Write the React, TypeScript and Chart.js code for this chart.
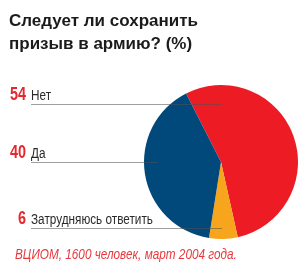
import React, { useEffect, useRef } from "react";
import { Chart, registerables } from "chart.js";

Chart.register(...registerables);

const title = ["Следует ли сохранить", "призыв в армию? (%)"];
const categories = ["Нет", "Затрудняюсь ответить", "Да"];
const values = [54, 6, 40];
const colors = ["#ED1C24", "#F7A51C", "#00497A"];
const legendOrder = [0, 2, 1];
const legendBaselines = [100, 158, 224];
const source = "ВЦИОМ, 1600 человек, март 2004 года.";

const SANS = '"Liberation Sans", Arial, sans-serif';

export default function App() {
  const ref = useRef<HTMLCanvasElement | null>(null);

  useEffect(() => {
    document.body.style.margin = "0";
    const leaderPlugin = {
      id: "leaders",
      afterDatasetsDraw(chart: any) {
        const ctx = chart.ctx;
        const arc = chart.getDatasetMeta(0).data[0];
        const cx = arc.x;
        ctx.save();
        ctx.strokeStyle = "rgba(80,80,80,0.55)";
        ctx.lineWidth = 1;
        const ends = [cx + 1, cx - 63, cx + 1];
        legendBaselines.forEach((b, i) => {
          const y = Math.round(b + 4) + 0.5;
          ctx.beginPath();
          ctx.moveTo(31, y);
          ctx.lineTo(ends[i], y);
          ctx.stroke();
        });
        ctx.restore();
      },
    };
    const chart = new Chart(ref.current!, {
      type: "pie",
      data: {
        labels: categories,
        datasets: [
          {
            data: values,
            backgroundColor: colors,
            borderWidth: 0,
          },
        ],
      },
      options: {
        responsive: false,
        animation: false,
        rotation: -27,
        layout: { padding: { top: 85, bottom: 39, left: 144, right: 5 } },
        plugins: {
          legend: { display: false },
          tooltip: { enabled: false },
          title: { display: false },
        },
      },
      plugins: [leaderPlugin],
    });
    return () => chart.destroy();
  }, []);

  const f1 = 18;
  const f2 = 14;
  return (
    <div style={{ position: "relative", width: 303, height: 278, background: "#fff", overflow: "hidden" }}>
      <canvas ref={ref} width={303} height={278} style={{ position: "absolute", left: 0, top: 0 }} />
      <div
        style={{
          position: "absolute",
          left: 9,
          top: 9,
          fontFamily: SANS,
          fontWeight: "bold",
          fontSize: 17,
          lineHeight: "23px",
          color: "#1b1b1b",
          whiteSpace: "nowrap",
        }}
      >
        {title.map((t, i) => (
          <div key={i}>{t}</div>
        ))}
      </div>
      {legendOrder.map((idx, i) => (
        <React.Fragment key={idx}>
          <div
            style={{
              position: "absolute",
              right: 303 - 26,
              top: legendBaselines[i] - 0.8465 * f1,
              fontFamily: SANS,
              fontWeight: "bold",
              fontSize: f1,
              lineHeight: 1,
              color: "#E8262D",
              whiteSpace: "nowrap",
              transform: "scaleX(0.8)",
              transformOrigin: "right center",
            }}
          >
            {values[idx]}
          </div>
          <div
            style={{
              position: "absolute",
              left: 31,
              top: legendBaselines[i] - 0.8465 * f2,
              fontFamily: SANS,
              fontSize: f2,
              lineHeight: 1,
              color: "#2a2a2a",
              whiteSpace: "nowrap",
              transform: "scaleX(0.84)",
              transformOrigin: "left center",
            }}
          >
            {categories[idx]}
          </div>
        </React.Fragment>
      ))}
      <div
        style={{
          position: "absolute",
          left: 15,
          top: 259 - 0.8465 * 14,
          fontFamily: SANS,
          fontStyle: "italic",
          fontSize: 14,
          lineHeight: 1,
          color: "#E8383E",
          whiteSpace: "nowrap",
          transform: "scaleX(0.84)",
          transformOrigin: "left center",
        }}
      >
        {source}
      </div>
    </div>
  );
}
